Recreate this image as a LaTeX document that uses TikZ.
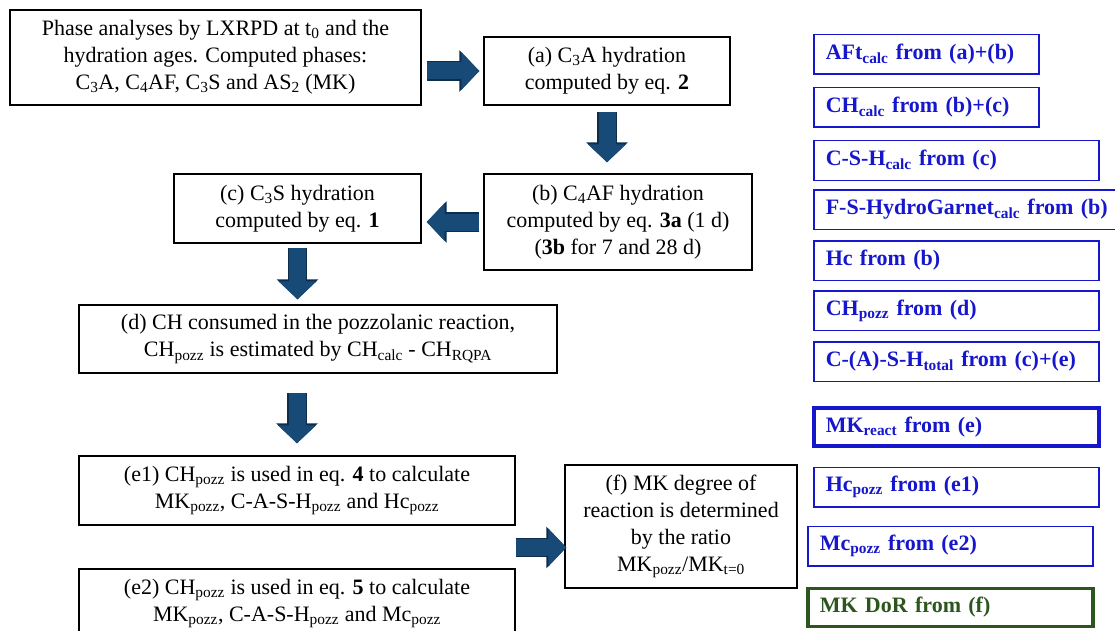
\documentclass[tikz,border=0pt]{standalone}
\usepackage{fontspec}
\setmainfont{Liberation Serif}
\usepackage{xcolor}
\usetikzlibrary{positioning,arrows.meta,calc}

\definecolor{calcblue}{RGB}{22,22,205}
\definecolor{dorgreen}{RGB}{45,85,30}
\definecolor{arrowblue}{RGB}{24,74,120}
\definecolor{arrowedge}{RGB}{14,45,75}

\begin{document}
\begin{tikzpicture}[
      x=1pt, y=-1pt,
      font=\fontsize{22}{27}\selectfont,
      box/.style={draw, line width=1.4pt, align=center, inner sep=4pt},
      outbox/.style={draw=calcblue, line width=1.5pt, text=calcblue, font=\fontsize{22}{27}\selectfont\bfseries,
        align=left, inner xsep=12pt, text width=#1, minimum height=39.5pt, anchor=north west},
      outbox/.default=261pt,
      thickbox/.style={line width=3.5pt, minimum height=38pt},
      blockarr/.style={draw=arrowblue, line width=17pt, -{Triangle[length=18pt,width=37pt]},
        preaction={draw=arrowedge, line width=19.5pt, -{Triangle[length=20pt,width=40.5pt]}}}
    ]
    \useasboundingbox (0,0) rectangle (1115,631);
    % computation steps
    \node[box, minimum width=411pt, minimum height=95pt] (phase) at (215.5,57.5) {Phase analyses by LXRPD at t\textsubscript{0} and the\\hydration ages. Computed phases:\\C\textsubscript{3}A, C\textsubscript{4}AF, C\textsubscript{3}S and AS\textsubscript{2} (MK)};
    \node[box, minimum width=246pt, minimum height=68pt] (hydA) at (607,71) {(a) C\textsubscript{3}A hydration\\computed by eq. \textbf{2}};
    \node[box, minimum width=268pt, minimum height=96pt] (hydB) at (618,222) {(b) C\textsubscript{4}AF hydration\\computed by eq. \textbf{3a} (1 d)\\(\textbf{3b} for 7 and 28 d)};
    \node[box, minimum width=247pt, minimum height=69pt] (hydC) at (297.5,208.5) {(c) C\textsubscript{3}S hydration\\computed by eq. \textbf{1}};
    \node[box, minimum width=478pt, minimum height=68pt] (chPozz) at (318,339) {(d) CH consumed in the pozzolanic reaction,\\CH\textsubscript{pozz} is estimated by CH\textsubscript{calc} - CH\textsubscript{RQPA}};
    \node[box, minimum width=436pt, minimum height=69pt] (eqFour) at (297,490.5) {(e1) CH\textsubscript{pozz} is used in eq. \textbf{4} to calculate\\MK\textsubscript{pozz}, C-A-S-H\textsubscript{pozz} and Hc\textsubscript{pozz}};
    \node[box, minimum width=436pt, minimum height=69pt] (eqFive) at (297,603.5) {(e2) CH\textsubscript{pozz} is used in eq. \textbf{5} to calculate\\MK\textsubscript{pozz}, C-A-S-H\textsubscript{pozz} and Mc\textsubscript{pozz}};
    \node[box, minimum width=232pt, minimum height=123pt] (dor) at (681,526.5) {(f) MK degree of\\reaction is determined\\by the ratio\\MK\textsubscript{pozz}/MK\textsubscript{t=0}};
    % computed outputs
    \node[outbox=201pt] (aft) at (813,34) {AFt\textsubscript{calc} from (a)+(b)};
    \node[outbox=201pt, below right=12pt and 0pt of aft.south west] (chCalc) {CH\textsubscript{calc} from (b)+(c)};
    \node[outbox, below right=12pt and 0pt of chCalc.south west] (cshCalc) {C-S-H\textsubscript{calc} from (c)};
    \node[outbox=286pt, below right=8pt and 0pt of cshCalc.south west] (fsh) {F-S-HydroGarnet\textsubscript{calc} from (b)};
    \node[outbox, below right=10pt and 0pt of fsh.south west] (hc) {Hc from (b)};
    \node[outbox, below right=9pt and 0pt of hc.south west] (chOut) {CH\textsubscript{pozz} from (d)};
    \node[outbox, below right=10pt and 0pt of chOut.south west] (cashTot) {C-(A)-S-H\textsubscript{total} from (c)+(e)};
    \node[outbox, thickbox, below right=24pt and -1pt of cashTot.south west] (mkReact) {MK\textsubscript{react} from (e)};
    \node[outbox, below right=19pt and 1pt of mkReact.south west] (hcPozz) {Hc\textsubscript{pozz} from (e1)};
    \node[outbox, below right=18pt and -6pt of hcPozz.south west] (mcPozz) {Mc\textsubscript{pozz} from (e2)};
    \node[outbox, thickbox, draw=dorgreen, text=dorgreen, below right=20pt and -1pt of mcPozz.south west] (mkDor) {MK DoR from (f)};
    % block arrows
    \coordinate (dorIn) at ($(dor.west)+(2,21)$);
    \draw[blockarr, shorten <=5pt, shorten >=4pt] (phase.east |- hydA.west) -- (hydA.west);
    \draw[blockarr, shorten <=6pt, shorten >=11pt] (hydA.south) -- (hydA.south |- hydB.north);
    \draw[blockarr, shorten <=4pt, shorten >=5pt] (hydB.west) -- (hydC.east |- hydB.west);
    \draw[blockarr, shorten <=4pt, shorten >=5pt] (hydC.south) -- (hydC.south |- chPozz.north);
    \draw[blockarr, shorten <=19pt, shorten >=12pt] (eqFour.north |- chPozz.south) -- (eqFour.north);
    \draw[blockarr] (dorIn -| eqFour.east) -- (dorIn);
  \end{tikzpicture}
\end{document}
